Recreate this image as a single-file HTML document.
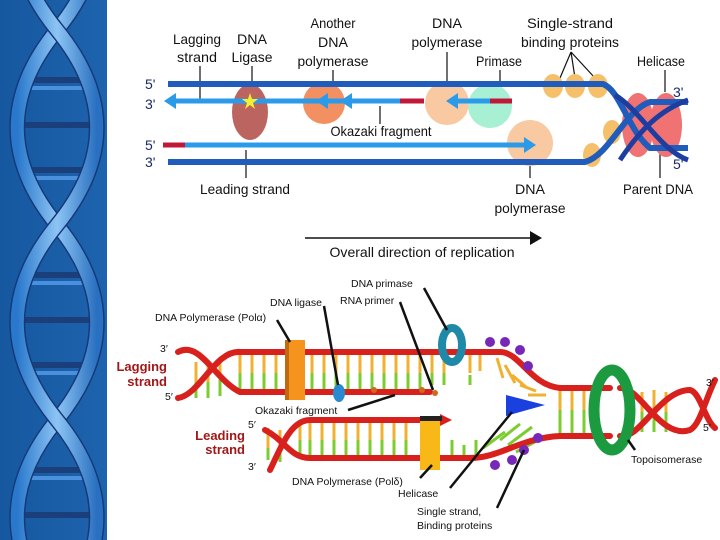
<!DOCTYPE html>
<html><head><meta charset="utf-8"><style>
html,body{margin:0;padding:0;background:#fff;width:720px;height:540px;overflow:hidden}
svg{display:block;overflow:hidden}
.c{font-family:"Liberation Sans",sans-serif;font-size:14px;fill:#111}
.a{font-family:"Liberation Sans",sans-serif;font-size:10.5px;fill:#111}
.r{font-family:"Liberation Sans",sans-serif;font-size:13px;font-weight:bold;fill:#a01818}
</style></head><body>
<svg width="720" height="540" viewBox="0 0 720 540" xmlns="http://www.w3.org/2000/svg">
<defs>
<linearGradient id="lp" x1="0" x2="1"><stop offset="0" stop-color="#1658a0"/><stop offset="1" stop-color="#1d63ad"/></linearGradient>
<linearGradient id="hx" x1="0" x2="1"><stop offset="0" stop-color="#2a78cc"/><stop offset=".5" stop-color="#8cc4f4"/><stop offset="1" stop-color="#2a70c0"/></linearGradient>
<clipPath id="cp"><rect x="0" y="0" width="107" height="540"/></clipPath>
</defs>
<rect x="0" y="0" width="107" height="540" fill="url(#lp)"/>
<g clip-path="url(#cp)">
<g stroke="#1a3f7a" stroke-width="6">
<line x1="30" y1="80" x2="85" y2="80"/><line x1="22" y1="125" x2="92" y2="125"/><line x1="30" y1="170" x2="85" y2="170"/>
<line x1="30" y1="275" x2="85" y2="275"/><line x1="22" y1="320" x2="92" y2="320"/><line x1="30" y1="365" x2="85" y2="365"/>
<line x1="30" y1="470" x2="85" y2="470"/><line x1="22" y1="515" x2="92" y2="515"/>
</g>
<g stroke="#4a90dc" stroke-width="4">
<line x1="30" y1="88" x2="85" y2="88"/><line x1="30" y1="178" x2="85" y2="178"/><line x1="30" y1="283" x2="85" y2="283"/><line x1="30" y1="373" x2="85" y2="373"/><line x1="30" y1="478" x2="85" y2="478"/>
</g>
<g fill="none" stroke-width="13" stroke-linecap="round">
<path d="M57,-165 C110,-100 110,-35 57,30 C4,95 4,160 57,225 C110,290 110,355 57,420 C4,485 4,550 57,615" stroke="#163a78" stroke-width="16"/>
<path d="M57,-165 C110,-100 110,-35 57,30 C4,95 4,160 57,225 C110,290 110,355 57,420 C4,485 4,550 57,615" stroke="url(#hx)"/>
<path d="M57,-165 C4,-100 4,-35 57,30 C110,95 110,160 57,225 C4,290 4,355 57,420 C110,485 110,550 57,615" stroke="#163a78" stroke-width="16"/>
<path d="M57,-165 C4,-100 4,-35 57,30 C110,95 110,160 57,225 C4,290 4,355 57,420 C110,485 110,550 57,615" stroke="url(#hx)"/>
</g>
</g>

<!-- TOP DIAGRAM -->
<g class="c" text-anchor="middle" lengthAdjust="spacingAndGlyphs">
<text x="197" y="44" textLength="48" lengthAdjust="spacingAndGlyphs">Lagging</text><text x="197" y="62" textLength="40" lengthAdjust="spacingAndGlyphs">strand</text>
<text x="252" y="44" textLength="30" lengthAdjust="spacingAndGlyphs">DNA</text><text x="252" y="62" textLength="41" lengthAdjust="spacingAndGlyphs">Ligase</text>
<text x="333" y="28" textLength="45" lengthAdjust="spacingAndGlyphs">Another</text><text x="333" y="47" textLength="30" lengthAdjust="spacingAndGlyphs">DNA</text><text x="333" y="66" textLength="71" lengthAdjust="spacingAndGlyphs">polymerase</text>
<text x="447" y="28" textLength="30" lengthAdjust="spacingAndGlyphs">DNA</text><text x="447" y="47" textLength="71" lengthAdjust="spacingAndGlyphs">polymerase</text>
<text x="570" y="28" textLength="86" lengthAdjust="spacingAndGlyphs">Single-strand</text><text x="570" y="47" textLength="98" lengthAdjust="spacingAndGlyphs">binding proteins</text>
<text x="499" y="66" textLength="46" lengthAdjust="spacingAndGlyphs">Primase</text>
<text x="661" y="66" textLength="48" lengthAdjust="spacingAndGlyphs">Helicase</text>
<text x="381" y="136" textLength="101" lengthAdjust="spacingAndGlyphs">Okazaki fragment</text>
<text x="245" y="194" textLength="90" lengthAdjust="spacingAndGlyphs">Leading strand</text>
<text x="530" y="194" textLength="30" lengthAdjust="spacingAndGlyphs">DNA</text><text x="530" y="213" textLength="71" lengthAdjust="spacingAndGlyphs">polymerase</text>
<text x="658" y="194" textLength="70" lengthAdjust="spacingAndGlyphs">Parent DNA</text>
<text x="422" y="257" textLength="185" lengthAdjust="spacingAndGlyphs">Overall direction of replication</text>
</g>
<g font-family="Liberation Sans,sans-serif" font-size="14" fill="#1a2a6a">
<text x="145" y="89">5'</text><text x="145" y="109">3'</text><text x="145" y="150">5'</text><text x="145" y="167">3'</text>
<text x="673" y="97">3'</text><text x="673" y="169">5'</text>
</g>
<g stroke="#111" stroke-width="1.2" fill="none">
<line x1="200" y1="66" x2="200" y2="101"/><line x1="252" y1="66" x2="252" y2="84"/>
<line x1="333" y1="70" x2="333" y2="92"/><line x1="447" y1="52" x2="447" y2="98"/>
<line x1="500" y1="70" x2="500" y2="98"/><line x1="380" y1="106" x2="380" y2="124"/>
<path d="M571,52 L560,78 M571,52 L575,78 M571,52 L595,78"/>
<line x1="665" y1="70" x2="665" y2="92"/><line x1="246" y1="150" x2="246" y2="178"/>
<line x1="530" y1="150" x2="530" y2="178"/><line x1="660" y1="150" x2="660" y2="178"/>
</g>
<ellipse cx="250" cy="112" rx="18" ry="28" fill="#bc6560"/>
<circle cx="324" cy="103" r="21" fill="#f29062"/>
<circle cx="447" cy="103" r="22" fill="#f9c9a2"/>
<circle cx="490" cy="106" r="22" fill="#a8f0d4"/>
<circle cx="530" cy="143" r="23" fill="#f9c9a2"/>
<g fill="#f6c06a"><ellipse cx="553" cy="86" rx="10" ry="12"/><ellipse cx="575" cy="86" rx="10" ry="12"/><ellipse cx="598" cy="86" rx="10" ry="12"/><ellipse cx="612" cy="132" rx="9" ry="12"/><ellipse cx="592" cy="155" rx="9" ry="12"/></g>
<ellipse cx="638" cy="125" rx="16" ry="32" fill="#f07272"/>
<ellipse cx="666" cy="125" rx="16" ry="32" fill="#f07272"/>
<g fill="none" stroke-linecap="butt">
<path d="M168,84 L603,84 C620,90 628,130 650,148 L688,148" stroke="#1f5cbc" stroke-width="6"/>
<path d="M168,162 L585,162 C610,155 625,110 650,102 L688,102" stroke="#1f5cbc" stroke-width="6"/>
<path d="M615,95 C640,110 660,150 688,160" stroke="#1d3ea0" stroke-width="5"/>
<path d="M620,160 C640,130 660,110 688,100" stroke="#1d3ea0" stroke-width="5"/>
<line x1="172" y1="101" x2="400" y2="101" stroke="#2b9ae8" stroke-width="5"/>
<line x1="400" y1="101" x2="424" y2="101" stroke="#c01838" stroke-width="5"/>
<line x1="452" y1="101" x2="490" y2="101" stroke="#2b9ae8" stroke-width="5"/>
<line x1="490" y1="101" x2="512" y2="101" stroke="#c01838" stroke-width="5"/>
<line x1="163" y1="145" x2="185" y2="145" stroke="#c01838" stroke-width="5"/>
<line x1="185" y1="145" x2="528" y2="145" stroke="#2b9ae8" stroke-width="5"/>
<line x1="305" y1="238" x2="532" y2="238" stroke="#111" stroke-width="1.5"/>
</g>
<g fill="#2b9ae8">
<polygon points="164,101 176,93 176,109"/><polygon points="316,101 328,93 328,109"/><polygon points="340,101 352,93 352,109"/>
<polygon points="446,101 458,93 458,109"/><polygon points="536,145 524,137 524,153"/>
</g>
<polygon points="542,238 530,231 530,245" fill="#111"/>
<polygon points="250,93 252,99 258,99 253,103 255,109 250,105 245,109 247,103 242,99 248,99" fill="#f4f030"/>

<!-- BOTTOM DIAGRAM -->
<g stroke-width="3">
<g stroke="#f0b030">
<path d="M240,353v20M252,353v20M264,353v20M276,353v20M312,353v20M324,353v20M336,353v20M348,353v20M360,353v20M372,353v20M384,353v20M396,353v20M408,353v20M420,353v20M432,353v20M444,353v20M470,353v20M480,353v18"/>
<path d="M300,422v18M310,422v18M322,422v18M334,422v18M346,422v18M358,422v18M370,422v18M382,422v18M394,422v18M406,422v18M560,388v22M572,388v22M584,388v22M596,388v22M630,388v20M642,392v20M654,390v22M666,392v20"/>
<path d="M196,362v20M208,360v22M220,358v22M280,430v20M268,428v20"/>
<path d="M497,358l6,20M505,365l10,18M512,375l14,12M520,385l16,6M528,395l18,0"/>
</g>
<g stroke="#7ccc30">
<path d="M240,373v19M252,373v19M264,373v19M276,373v19M312,373v19M324,373v19M336,373v19M348,373v19M360,373v19M372,373v19M384,373v19M396,373v19M408,373v19M420,373v19M432,373v12M444,373v12M470,385v-10"/>
<path d="M300,440v15M310,440v15M322,440v15M334,440v15M346,440v15M358,440v15M370,440v15M382,440v15M394,440v15M406,440v15M452,440v15M464,445v10M476,440v15M560,410v25M572,410v25M584,410v25M596,410v25M630,408v20M642,412v20M654,412v20M666,412v20"/>
<path d="M196,382v16M208,382v16M220,380v16M280,450v12M268,448v12"/>
<path d="M500,440l20,-16M508,445l24,-18M516,452l26,-14M505,432l-22,16"/>
</g>
</g>
<g fill="none" stroke="#d8201c" stroke-width="6" stroke-linecap="round">
<path d="M178,352 C200,340 215,380 240,392 L430,392"/>
<path d="M178,398 C200,395 215,350 240,352 L500,352 C520,352 530,385 560,388 L610,388"/>
<path d="M270,470 C280,450 290,420 310,420 L440,420"/>
<path d="M265,430 C285,440 290,458 310,458 L470,458 C500,458 520,438 560,436 L610,436"/>
<path d="M620,388 C640,386 660,440 690,430 C700,425 705,400 715,380"/>
<path d="M620,436 C640,440 660,390 690,390 C700,392 705,420 715,428"/>
</g>
<polygon points="452,420 440,414 440,426" fill="#d8201c"/>
<rect x="287" y="340" width="18" height="60" fill="#f6921e"/><rect x="285" y="340" width="4" height="60" fill="#c06a10"/>
<rect x="420" y="418" width="20" height="52" fill="#f8b818"/><rect x="420" y="416" width="22" height="5" fill="#222"/>
<ellipse cx="452" cy="345" rx="10" ry="17" fill="none" stroke="#1e8aa8" stroke-width="8"/>
<ellipse cx="339" cy="393" rx="6" ry="9" fill="#2a8ad0"/>
<ellipse cx="612" cy="410" rx="18" ry="40" fill="none" stroke="#1c9a40" stroke-width="11"/>
<polygon points="506,395 506,416 545,405" fill="#1a40e0"/>
<g fill="#7828b8">
<circle cx="490" cy="342" r="5"/><circle cx="505" cy="342" r="5"/><circle cx="520" cy="350" r="5"/><circle cx="528" cy="366" r="5"/>
<circle cx="495" cy="465" r="5"/><circle cx="512" cy="460" r="5"/><circle cx="524" cy="450" r="5"/><circle cx="538" cy="438" r="5"/>
</g>
<g fill="#d06820"><circle cx="374" cy="390" r="3"/><circle cx="422" cy="390" r="3"/><circle cx="435" cy="393" r="3"/></g>
<g stroke="#111" stroke-width="2.5" fill="none">
<line x1="424" y1="288" x2="447" y2="330"/><line x1="400" y1="302" x2="433" y2="390"/>
<line x1="324" y1="306" x2="338" y2="385"/><line x1="277" y1="320" x2="290" y2="342"/>
<line x1="348" y1="410" x2="395" y2="395"/>
<line x1="450" y1="488" x2="512" y2="412"/><line x1="497" y1="508" x2="524" y2="450"/>
<line x1="635" y1="450" x2="628" y2="440"/><line x1="420" y1="478" x2="432" y2="465"/>
</g>
<g class="a">
<text x="351" y="287">DNA primase</text><text x="340" y="304">RNA primer</text>
<text x="270" y="306">DNA ligase</text><text x="155" y="321">DNA Polymerase (Polα)</text>
<text x="255" y="414">Okazaki fragment</text>
<text x="292" y="485">DNA Polymerase (Polδ)</text>
<text x="398" y="497">Helicase</text>
<text x="417" y="515">Single strand,</text><text x="417" y="529">Binding proteins</text>
<text x="631" y="463">Topoisomerase</text>
<text x="160" y="352">3′</text><text x="165" y="400">5′</text>
<text x="248" y="428">5′</text><text x="248" y="470">3′</text>
<text x="706" y="386">3′</text><text x="703" y="431">5′</text>
</g>
<g class="r" text-anchor="end">
<text x="167" y="371">Lagging</text><text x="167" y="386">strand</text>
<text x="245" y="440">Leading</text><text x="245" y="454">strand</text>
</g>
</svg>
</body></html>
